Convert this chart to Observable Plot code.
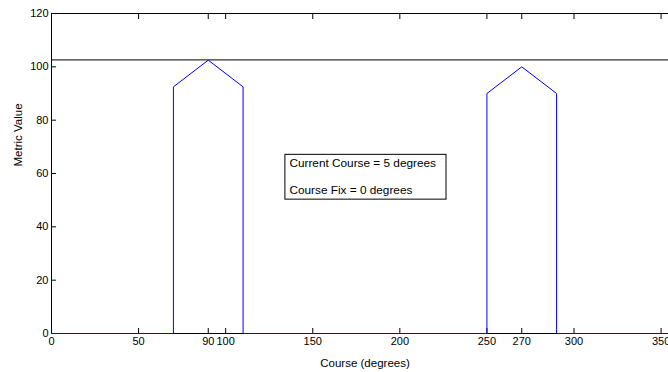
<!DOCTYPE html>
<html>
<head>
<meta charset="utf-8">
<script src="https://cdn.jsdelivr.net/npm/d3@7"></script>
<script src="https://cdn.jsdelivr.net/npm/@observablehq/plot@0.6"></script>
<style>
  html, body { margin: 0; padding: 0; background: #fff; overflow: hidden; }
  #chart svg { overflow: visible; }
</style>
</head>
<body>
<div id="chart"></div>
<script>
// Metric curve (course in degrees, metric value)
const courseDeg = [0, 70, 70, 90, 110, 110, 250, 250, 270, 290, 290, 360];
const metricVal = [0, 0, 92.5, 102.5, 92.5, 0, 0, 90, 100, 90, 0, 0];
// Threshold line
const thresholdValue = 102.6;
// Tick labels
const xTicks = [0, 50, 90, 100, 150, 200, 250, 270, 300, 350];
const yTicks = [0, 20, 40, 60, 80, 100, 120];
// Annotation text box (data units)
const noteLines = ["Current Course = 5 degrees", "Course Fix = 0 degrees"];
const noteLineY = [63.8, 53.7];
const noteBox = [{x1: 134.3, x2: 226.8, y1: 50.2, y2: 67.0}];
const noteTextX = 136.6;

const curve = courseDeg.map((c, i) => ({course: c, value: metricVal[i]}));
const notes = noteLines.map((t, i) => ({text: t, y: noteLineY[i], x: noteTextX}));

const font = "'Liberation Sans', Arial, Helvetica, sans-serif";

const chart = Plot.plot({
  width: 668,
  height: 372,
  marginLeft: 51,
  marginTop: 13,
  marginBottom: 39,
  marginRight: -10,
  style: {fontFamily: font, fontSize: "11px", background: "#fff", color: "#000"},
  x: {domain: [0, 360]},
  y: {domain: [0, 120]},
  marks: [
    Plot.ruleY([thresholdValue], {stroke: "#000", strokeWidth: 1}),
    Plot.rect(noteBox, {x1: "x1", x2: "x2", y1: "y1", y2: "y2", fill: "#fff", stroke: "#000", strokeWidth: 1}),
    Plot.text(notes, {x: "x", y: "y", text: "text", textAnchor: "start", fontSize: 11.8}),
    Plot.axisX({anchor: "bottom", ticks: xTicks, tickSize: -5, tickPadding: 9, label: null, fontSize: 11}),
    Plot.axisX({anchor: "top", ticks: xTicks, tickSize: -5, tickFormat: () => "", label: null}),
    Plot.axisY({anchor: "left", ticks: yTicks, tickSize: -5, tickPadding: 8, label: null, fontSize: 11}),
    Plot.axisY({anchor: "right", ticks: yTicks, tickSize: -5, tickFormat: () => "", label: null}),
    Plot.frame({stroke: "#000", strokeWidth: 1}),
    Plot.line(curve, {x: "course", y: "value", stroke: "#0000ff", strokeWidth: 1}),
    Plot.text(["Course (degrees)"], {frameAnchor: "bottom", dy: 33, fontSize: 11.5}),
    Plot.text(["Metric Value"], {frameAnchor: "left", rotate: -90, dx: -33, dy: -7, fontSize: 11.5})
  ]
});
document.getElementById("chart").appendChild(chart);
</script>
</body>
</html>
